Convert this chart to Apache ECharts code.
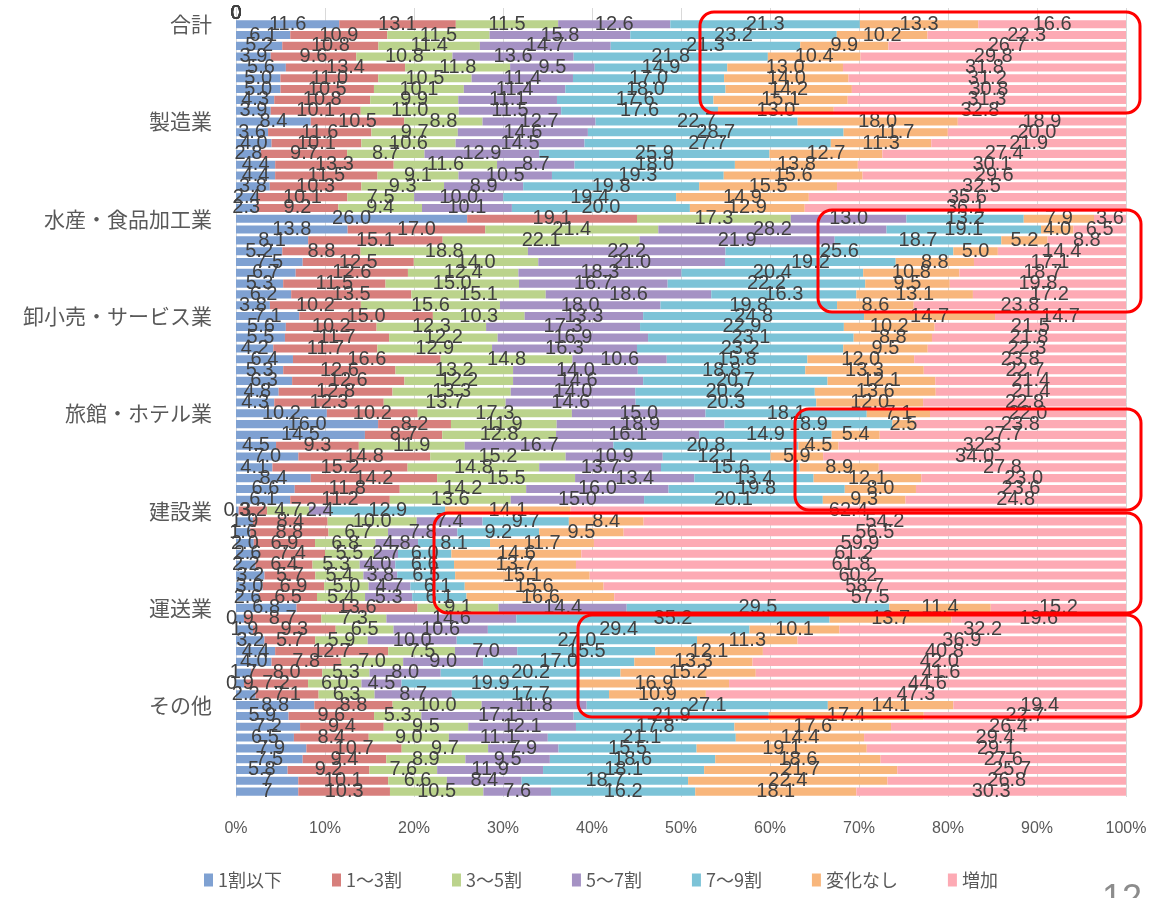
<!DOCTYPE html>
<html>
<head>
<meta charset="utf-8">
<script src="https://cdn.jsdelivr.net/npm/echarts@6/dist/echarts.min.js"></script>
<style>
html,body{margin:0;padding:0;background:#fff;}
#chart{width:1169px;height:898px;}
</style>
</head>
<body>
<div id="chart"></div>
<script>
// ---- data ----
const groups = ['合計','製造業','水産・食品加工業','卸小売・サービス業','旅館・ホテル業','建設業','運送業','その他'];
const seriesNames = ['1割以下','1～3割','3～5割','5～7割','7～9割','変化なし','増加'];
const xTicks = [0,10,20,30,40,50,60,70,80,90,100];

const s1 = [11.6,6.1,5.2,3.9,5.6,5.0,5.0,4.3,3.9, 8.4,3.6,4.0,2.8,4.4,4.4,3.8,2.4,2.3, 26.0,13.8,8.1,5.2,7.5,6.7,5.3,6.2,3.8, 7.1,5.6,5.5,4.2,6.4,5.3,6.3,4.8,4.3, 10.2,16.0,14.5,4.5,7.0,4.1,8.4,6.6,6.1, 0.3,1.9,1.6,2.0,2.6,2.2,3.2,3.0,2.6, 6.8,0.9,1.9,3.2,4.4,4.0,1.7,0.9,2.2, 8.8,5.9,7.2,6.5,7.9,7.5,5.8,7,7];
const s2 = [13.1,10.9,10.8,9.6,13.4,11.0,10.5,10.8,10.1, 10.5,11.6,10.1,9.7,13.3,11.5,10.3,10.1,9.2, 19.1,17.0,15.1,8.8,12.5,12.6,11.5,13.5,10.2, 15.0,10.2,11.7,11.7,16.6,12.6,12.6,12.8,12.3, 10.2,8.2,8.7,9.3,14.8,15.2,14.2,11.8,11.2, 3.2,8.4,8.8,6.9,7.4,6.4,5.7,6.9,6.5, 13.6,8.7,9.3,5.7,12.7,7.8,8.0,7.2,7.1, 8.8,9.6,9.4,8.4,10.7,9.4,9.2,10.1,10.3];
const s3 = [11.5,11.5,11.4,10.8,11.8,10.5,10.1,9.9,11.0, 8.8,9.7,10.6,8.7,11.6,9.1,9.3,7.5,9.4, 17.3,21.4,22.1,18.8,14.0,12.4,15.0,15.1,15.6, 10.3,12.3,12.2,12.9,14.8,13.2,12.2,13.3,13.7, 17.3,11.9,12.8,11.9,15.2,14.8,15.5,14.2,13.6, 4.7,10.0,6.7,6.8,5.5,5.3,5.4,5.0,5.4, 9.1,7.3,6.5,5.9,7.5,7.0,5.3,6.0,6.3, 10.0,5.3,9.5,9.0,9.7,8.9,7.6,6.6,10.5];
const s4 = [12.6,15.8,14.7,13.6,9.5,11.4,11.4,11.1,11.5, 12.7,14.6,14.5,12.9,8.7,10.5,8.9,10.0,10.1, 13.0,28.2,21.9,22.2,21.0,18.3,16.7,18.6,18.0, 13.3,17.3,16.9,16.3,10.6,14.0,14.6,14.0,14.6, 15.0,18.9,16.1,16.7,10.9,13.7,13.4,16.0,15.0, 2.4,7.4,7.8,4.8,2.7,4.0,3.8,4.7,5.3, 14.4,14.6,10.6,10.0,7.0,9.0,8.0,4.5,8.7, 11.8,17.1,12.1,11.1,7.9,9.5,11.9,8.4,7.6];
const s5 = [21.3,23.2,21.3,21.8,14.9,17.0,18.0,17.6,17.6, 22.7,28.7,27.7,25.9,18.0,19.3,19.8,19.4,20.0, 13.2,19.1,18.7,25.6,19.2,20.4,22.2,16.3,19.8, 24.8,22.9,23.1,23.2,15.8,18.8,20.7,20.2,20.3, 18.1,18.9,14.9,20.8,12.1,15.6,13.4,19.8,20.1, 12.9,9.7,9.2,8.1,6.0,6.6,6.5,6.1,6.1, 29.5,35.2,29.4,27.0,15.5,17.0,20.2,19.9,17.7, 27.1,21.9,17.8,21.1,15.5,18.6,18.1,18.7,16.2];
const s6 = [13.3,10.2,9.9,10.4,13.0,14.0,14.2,15.1,13.0, 18.0,11.7,11.3,12.7,13.8,15.6,15.5,14.9,12.9, 7.9,4.0,5.2,5.0,8.8,10.8,9.5,13.1,8.6, 14.7,10.2,8.8,9.5,12.0,13.3,12.1,13.6,12.0, 7.1,2.5,5.4,4.5,5.9,8.9,12.1,8.0,9.3, 14.1,8.4,9.5,11.7,14.6,13.7,15.1,15.6,16.6, 11.4,13.7,10.1,11.3,12.1,13.3,15.2,16.9,10.9, 14.1,17.4,17.6,14.4,19.1,18.6,21.7,22.4,18.1];
const s7 = [16.6,22.3,26.7,29.8,31.8,31.2,30.8,31.3,32.8, 18.9,20.0,21.9,27.4,30.1,29.6,32.5,35.6,36.1, 3.6,6.5,8.8,14.4,17.1,18.7,19.8,17.2,23.8, 14.7,21.5,21.8,22.3,23.8,22.7,21.4,21.4,22.8, 22.0,23.8,27.7,32.3,34.0,27.8,23.0,23.6,24.8, 62.4,54.2,56.5,59.9,61.2,61.8,60.2,58.7,57.5, 15.2,19.6,32.2,36.9,40.8,42.0,41.6,44.6,47.3, 19.4,22.7,26.4,29.4,29.1,27.6,25.7,26.8,30.3];
// blank top row (all zero) shown above 合計
const topRow = [0,0,0,0,0,0,0];
// cells whose label is shown without a decimal (series index -> row indices in the full list)
const plainLabels = {0: [71, 72]};

const colors = ['#7fa1d2','#d77f7c','#bbd38c','#a592c4','#7cc3d7','#f8b67c','#fdaab4'];

// ---- build ----
const raw = [s1,s2,s3,s4,s5,s6,s7].map((arr, k) => [topRow[k]].concat(arr));
const nRows = raw[0].length;
const perRow = Math.round((nRows - 1) / groups.length);
const rowLabels = [];
for (let i = 0; i < nRows; i++) {
  rowLabels.push((i >= 1 && (i - 1) % perRow === 0) ? groups[(i - 1) / perRow] : '');
}
const sums = [];
for (let i = 0; i < nRows; i++) {
  let s = 0; for (let k = 0; k < 7; k++) s += raw[k][i];
  sums.push(s);
}
const labelFont = "'Liberation Sans', Arial, sans-serif";
const series = raw.map((arr, k) => ({
  name: seriesNames[k],
  type: 'bar',
  stack: 'total',
  barCategoryGap: '25%',
  itemStyle: { color: colors[k] },
  label: {
    show: true,
    position: 'inside',
    color: '#404040',
    fontSize: 20,
    fontFamily: labelFont,
    formatter: p => {
      const v = p.data.raw;
      if (v === 0) return '0';
      if (plainLabels[k] && plainLabels[k].indexOf(p.dataIndex) >= 0) return String(v);
      return v.toFixed(1);
    }
  },
  emphasis: { disabled: true },
  data: arr.map((v, i) => ({ value: sums[i] ? v / sums[i] * 100 : 0, raw: v }))
}));

const chart = echarts.init(document.getElementById('chart'), null, { renderer: 'canvas' });
const box = (x, y, w, h) => ({
  type: 'rect', z: 100,
  shape: { x: x, y: y, width: w, height: h, r: 14 },
  style: { fill: 'none', stroke: '#ff0000', lineWidth: 3 }
});
chart.setOption({
  animation: false,
  backgroundColor: '#ffffff',
  grid: { left: 236, right: 43, top: 8, bottom: 101 },
  xAxis: {
    type: 'value', min: xTicks[0], max: xTicks[xTicks.length - 1], interval: 10,
    axisLine: { show: false }, axisTick: { show: false },
    splitLine: { show: true, lineStyle: { color: '#d9d9d9', width: 1 } },
    axisLabel: { formatter: '{value}%', color: '#595959', fontSize: 16, fontFamily: labelFont, margin: 24 }
  },
  yAxis: {
    type: 'category', inverse: true,
    data: rowLabels.map((l, i) => 'r' + i),
    axisTick: { show: false },
    axisLine: { show: true, lineStyle: { color: '#d9d9d9' } },
    axisLabel: {
      interval: 0, margin: 24, color: '#595959', fontSize: 21, fontFamily: 'Noto Sans CJK JP',
      formatter: (v, i) => rowLabels[i]
    }
  },
  legend: {
    bottom: 4, left: 199,
    icon: 'rect', itemWidth: 9, itemHeight: 13, itemGap: 50,
    textStyle: { color: '#595959', fontSize: 18, fontFamily: 'Noto Sans CJK JP' },
    data: seriesNames
  },
  series: series,
  graphic: [
    box(700, 12, 440, 101),
    box(818, 210, 323, 102),
    box(795, 409, 346, 101),
    box(434, 513, 707, 100),
    box(578, 615, 563, 102),
    { type: 'text', z: 100, left: 1102, top: 882, style: { text: '12', fill: '#8c8c8c', fontSize: 36, fontFamily: 'Liberation Sans' } }
  ]
});
</script>
</body>
</html>
